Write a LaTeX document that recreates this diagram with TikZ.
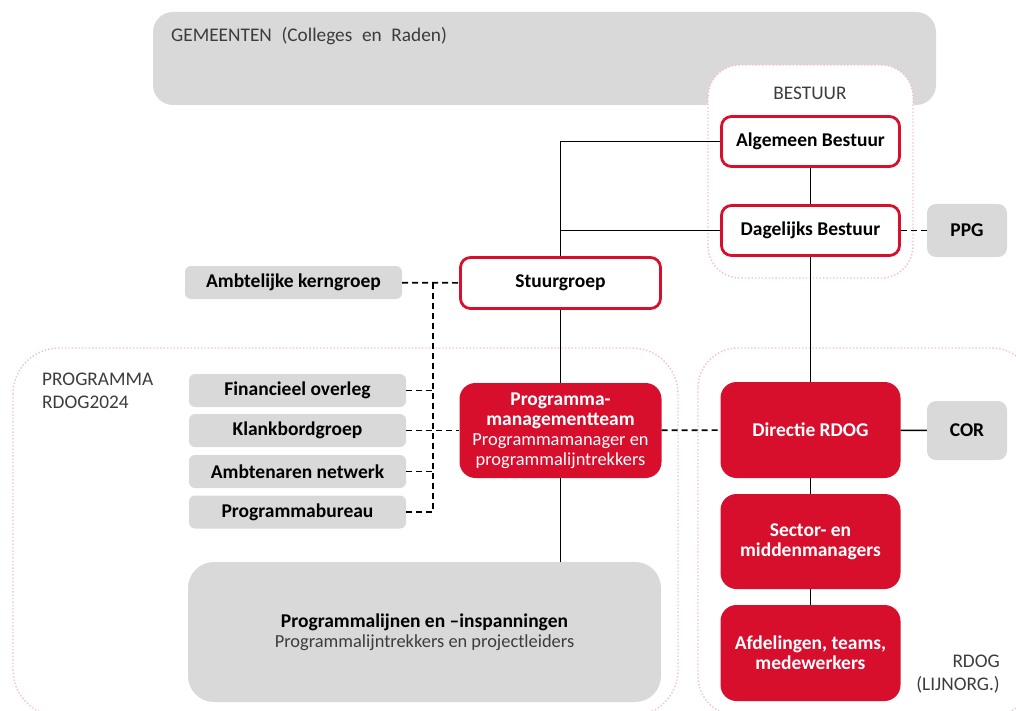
\documentclass[tikz,border=0pt]{standalone}
\usepackage{fontspec}
\setmainfont{Carlito}
\definecolor{rdogRed}{HTML}{D80E2D}
\definecolor{rdogGray}{HTML}{D9D9D9}
\definecolor{rdogPink}{HTML}{F6BFCB}
\definecolor{rdogText}{HTML}{3C3C3C}
\newcommand{\rdogsub}{\fontsize{18.4}{20}\selectfont\mdseries}
\tikzset{
  rdog region/.style={draw=rdogPink, dotted, line width=1.4pt, rounded corners=40pt},
  rdog grey/.style={rectangle, fill=rdogGray, rounded corners=9pt, inner sep=0pt, align=center, font=\fontsize{19.5}{20}\selectfont\bfseries},
  rdog board/.style={rectangle, draw=rdogRed, fill=white, line width=2.8pt, rounded corners=10pt, inner sep=0pt, font=\fontsize{19.5}{20}\selectfont\bfseries},
  rdog red/.style={rectangle, fill=rdogRed, text=white, rounded corners=16pt, inner sep=0pt, align=center, font=\fontsize{19.5}{20}\selectfont\bfseries},
  rdog link/.style={draw=black, line width=1.5pt},
  rdog dash/.style={draw=black, line width=1.6pt, dash pattern=on 6pt off 4pt},
  rdog caption/.style={text=rdogText, font=\fontsize{19.3}{23}\selectfont, inner sep=0pt},
}

\begin{document}
\begin{tikzpicture}[x=1pt,y=-1pt]
\useasboundingbox (0,0) rectangle (1016,711);
% gemeenten en de drie kaders
\fill[rdogGray, rounded corners=20pt] (153,12) rectangle (936,105);
\node[rdog caption, anchor=west] (gemLbl) at (171,36) {GEMEENTEN\enspace(Colleges\enspace en\enspace Raden)};
\draw[rdog region, fill=white, rounded corners=32pt] (708,65) rectangle (913,278);
\draw[rdog region, rounded corners=46pt] (13,348) rectangle (678,716);
\draw[rdog region] (698,348) rectangle (1032,716);
\node[rdog caption] (bestLbl) at (810,93) {BESTUUR};
\node[rdog caption, anchor=north west, align=left] (progLbl) at (42,373) {PROGRAMMA\\RDOG2024};
\node[rdog caption, anchor=east, align=right] (lijnLbl) at (1000,674) {RDOG\\(LIJNORG.)};
% bestuur
\node[rdog board, minimum width=178pt, minimum height=50pt] (alg) at (810.5,141.5) {Algemeen Bestuur};
\node[rdog board, minimum width=178pt, minimum height=50pt] (dag) at (810.5,230.5) {Dagelijks Bestuur};
\node[rdog grey, minimum width=80pt, minimum height=53pt] (ppg) at (967,230.5) {PPG};
\node[rdog board, minimum width=200pt, minimum height=51pt] (stuur) at (560.5,283) {Stuurgroep};
\node[rdog grey, minimum width=217pt, minimum height=33pt, rounded corners=6pt] (ambt) at (293.5,282.5) {Ambtelijke kerngroep};
% programma
\foreach \nm/\y/\txt in {fin/390.5/Financieel overleg, klank/430.5/Klankbordgroep, netw/471.5/Ambtenaren netwerk, bureau/512/Programmabureau}
  {\node[rdog grey, minimum width=217pt, minimum height=33pt, rounded corners=6pt] (\nm) at (297.5,\y) {\txt};}
\node[rdog red, minimum width=202pt, minimum height=95pt] (pmt) at (560.5,430.5)
  {Programma-\\managementteam\\\rdogsub Programmamanager en\\\rdogsub programmalijntrekkers};
\node[rdog grey, minimum width=473pt, minimum height=140pt, rounded corners=26pt] (lijnen) at (424.5,632)
  {Programmalijnen en \textendash inspanningen\\\rdogsub\color{rdogText}Programmalijntrekkers en projectleiders};
% lijnorganisatie
\node[rdog red, minimum width=180pt, minimum height=96pt] (dir) at (810.5,430) {Directie RDOG};
\node[rdog red, minimum width=180pt, minimum height=95pt] (sector) at (810.5,541.5) {Sector- en\\middenmanagers};
\node[rdog red, minimum width=180pt, minimum height=96pt] (afd) at (810.5,653) {Afdelingen, teams,\\medewerkers};
\node[rdog grey, minimum width=80pt, minimum height=59pt] (cor) at (967,430.5) {COR};
% verbindingen
\draw[rdog link] (stuur.north) |- (alg.west);
\draw[rdog link] (stuur.north |- dag.west) -- (dag.west);
\draw[rdog link] (alg) -- (dag);\draw[rdog link] (dag) -- (dir);
\draw[rdog link] (dir) -- (sector);\draw[rdog link] (sector) -- (afd);\draw[rdog link] (dir) -- (cor);
\draw[rdog link] (stuur) -- (pmt);\draw[rdog link] (pmt.south) -- (pmt.south |- lijnen.north);
\draw[rdog dash] (dag) -- (ppg);\draw[rdog dash] (pmt) -- (dir);
\draw[rdog dash] (ambt) -- (stuur);\draw[rdog dash] (klank) -- (pmt);
\coordinate (bus) at (433,283);
\draw[rdog dash] (bus) -- (bus |- bureau.east);
\foreach \nm in {fin,netw,bureau}{\draw[rdog dash] (\nm.east) -- (bus |- \nm.east);}
\end{tikzpicture}
\end{document}
